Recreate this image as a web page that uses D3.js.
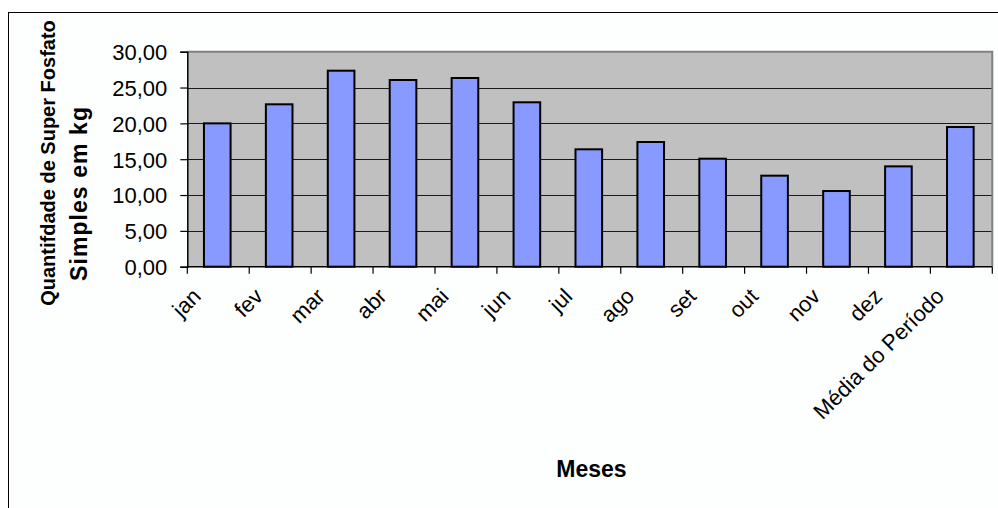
<!DOCTYPE html>
<html>
<head>
<meta charset="utf-8">
<script src="https://cdn.jsdelivr.net/npm/d3@7"></script>
<style>
  body { margin: 0; background: #fff; }
  svg { display: block; font-family: "Liberation Sans", Arial, sans-serif; }
</style>
</head>
<body>
<div id="chart"></div>
<script>
// data
var meses = ["jan", "fev", "mar", "abr", "mai", "jun", "jul", "ago", "set", "out", "nov", "dez", "Média do Período"];
var quantidade = [20.0, 22.66, 27.35, 26.05, 26.33, 22.94, 16.38, 17.4, 15.07, 12.7, 10.56, 14.0, 19.49];
var yTicks = [0, 5, 10, 15, 20, 25, 30];

var width = 998,
    height = 508;

var plot = { left: 187.3, right: 992.3, top: 51.7, bottom: 266.7 };

var svg = d3.select("#chart").append("svg")
    .attr("width", width)
    .attr("height", height);

// outer chart frame (runs past the right and bottom edges)
svg.append("rect")
    .attr("x", 8.5).attr("y", 12.5)
    .attr("width", width + 10).attr("height", height + 10)
    .attr("fill", "#fdfffe")
    .attr("stroke", "#000")
    .attr("stroke-width", 1);

var x = d3.scaleBand()
    .domain(meses)
    .range([plot.left, plot.right])
    .padding(0);

var y = d3.scaleLinear()
    .domain([0, 30])
    .range([plot.bottom, plot.top]);

// plot background
svg.append("rect")
    .attr("x", plot.left).attr("y", plot.top)
    .attr("width", plot.right - plot.left)
    .attr("height", plot.bottom - plot.top)
    .attr("fill", "#c0c0c0");

// gridlines
svg.append("g")
    .selectAll("line")
    .data(yTicks.filter(function(d) { return d > 0 && d < 30; }))
    .enter().append("line")
    .attr("x1", plot.left).attr("x2", plot.right)
    .attr("y1", function(d) { return Math.round(y(d)) + 0.5; })
    .attr("y2", function(d) { return Math.round(y(d)) + 0.5; })
    .attr("stroke", "#1a1a1a")
    .attr("stroke-width", 1.2);

// top and right border of plot
svg.append("path")
    .attr("d", "M" + plot.left + "," + y(30) + "H" + plot.right + "V" + plot.bottom)
    .attr("fill", "none")
    .attr("stroke", "#808080")
    .attr("stroke-width", 2);

// bars
var barW = x.bandwidth() * 0.43;
svg.append("g")
    .selectAll("rect")
    .data(quantidade)
    .enter().append("rect")
    .attr("x", function(d, i) { return x(meses[i]) + x.bandwidth() / 2 - barW / 2 - 1; })
    .attr("y", function(d) { return y(d); })
    .attr("width", barW)
    .attr("height", function(d) { return y(0) - y(d); })
    .attr("fill", "#8899ff")
    .attr("stroke", "#000")
    .attr("stroke-width", 2);

// y axis
var yAxis = svg.append("g")
    .attr("transform", "translate(" + plot.left + ",0)")
    .call(d3.axisLeft(y)
        .tickValues(yTicks)
        .tickSize(7)
        .tickPadding(13)
        .tickFormat(function(d) { return d.toFixed(2).replace(".", ","); }));
yAxis.select(".domain").attr("stroke", "#000").attr("stroke-width", 1.5);
yAxis.selectAll(".tick line").attr("stroke", "#000").attr("stroke-width", 1.2);
yAxis.selectAll(".tick text")
    .attr("fill", "#000")
    .style("font-size", "22px")
    .attr("dy", "0.36em");

// x axis: ticks at band boundaries
var xAxis = svg.append("g");
xAxis.append("line")
    .attr("x1", plot.left).attr("x2", plot.right)
    .attr("y1", y(0)).attr("y2", y(0))
    .attr("stroke", "#000").attr("stroke-width", 1.5);
xAxis.selectAll(".xtick")
    .data(meses.concat(["_end"]))
    .enter().append("line")
    .attr("class", "xtick")
    .attr("x1", function(d, i) { return plot.left + i * x.step(); })
    .attr("x2", function(d, i) { return plot.left + i * x.step(); })
    .attr("y1", y(0)).attr("y2", y(0) + 7)
    .attr("stroke", "#000").attr("stroke-width", 1.2);

xAxis.selectAll(".xlabel")
    .data(meses)
    .enter().append("text")
    .attr("class", "xlabel")
    .attr("transform", function(d) {
        return "translate(" + (x(d) + x.bandwidth() / 2 - 16) + "," + (y(0) + 31) + ")rotate(-45)";
    })
    .attr("text-anchor", "end")
    .style("font-size", "22px")
    .text(function(d) { return d; });

// axis titles
svg.append("text")
    .attr("x", 591.5).attr("y", 477)
    .attr("text-anchor", "middle")
    .style("font-size", "23px")
    .style("font-weight", "bold")
    .text("Meses");

svg.append("text")
    .attr("transform", "translate(55,163)rotate(-90)")
    .attr("text-anchor", "middle")
    .style("font-size", "20px")
    .style("font-weight", "bold")
    .text("Quantifdade de Super Fosfato");

svg.append("text")
    .attr("transform", "translate(87,194)rotate(-90)")
    .attr("text-anchor", "middle")
    .attr("textLength", 174)
    .attr("lengthAdjust", "spacing")
    .style("font-size", "23px")
    .style("font-weight", "bold")
    .text("Simples em kg");
</script>
</body>
</html>
